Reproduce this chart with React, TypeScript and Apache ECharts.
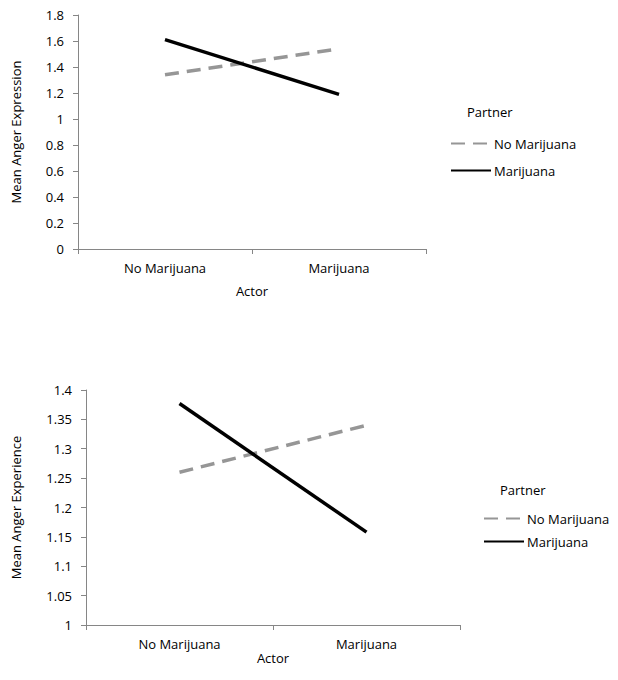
import React, { useEffect, useRef } from "react";
import * as echarts from "echarts";

const categories = ["No Marijuana", "Marijuana"];
const seriesNames = ["No Marijuana", "Marijuana"];
const expressionNoMj = [1.34, 1.54];
const expressionMj = [1.61, 1.19];
const experienceNoMj = [1.26, 1.34];
const experienceMj = [1.377, 1.158];

const FONT = "Open Sans";
const FS = 13;
const AXIS_COLOR = "#868686";
const DASH_COLOR = "#969696";

export default function App() {
  const ref = useRef<HTMLDivElement>(null);
  useEffect(() => {
    if (!ref.current) return;
    const chart = echarts.init(ref.current, null, { renderer: "svg" });
    const xAxisBase = (gridIndex: number, nameGap: number) => ({
      type: "category",
      gridIndex,
      data: categories,
      boundaryGap: true,
      name: "Actor",
      nameLocation: "middle",
      nameGap,
      nameTextStyle: { fontFamily: FONT, fontSize: FS, color: "#000" },
      axisLine: { show: true, lineStyle: { color: AXIS_COLOR, width: 1 } },
      axisTick: { show: true, length: 5, lineStyle: { color: AXIS_COLOR } },
      axisLabel: { fontFamily: FONT, fontSize: FS, color: "#000", margin: 12 },
      splitLine: { show: false },
    });
    const yAxisBase = (gridIndex: number, name: string, min: number, max: number, interval: number, nameGap: number) => ({
      type: "value",
      gridIndex,
      min,
      max,
      interval,
      name,
      nameLocation: "middle",
      nameGap,
      nameTextStyle: { fontFamily: FONT, fontSize: FS, color: "#000" },
      axisLine: { show: true, lineStyle: { color: AXIS_COLOR, width: 1 } },
      axisTick: { show: true, length: 5, lineStyle: { color: AXIS_COLOR } },
      axisLabel: { fontFamily: FONT, fontSize: FS, color: "#000", margin: 14 },
      splitLine: { show: false },
    });
    const dashStyle = { color: DASH_COLOR, width: 3.5, type: [14, 8] as any };
    const solidStyle = { color: "#000", width: 3.5, type: "solid" };
    const legendBase = (left: number, top: number, itemGap: number) => ({
      orient: "vertical",
      left,
      top,
      padding: 0,
      itemWidth: 40,
      itemHeight: 14,
      itemGap,
      data: seriesNames,
      selectedMode: false,
      itemStyle: { opacity: 0 },
      textStyle: { fontFamily: FONT, fontSize: FS, color: "#000", padding: [0, 0, 0, -2] },
    });
    chart.setOption({
      animation: false,
      backgroundColor: "#fff",
      title: [
        { text: "Partner", left: 467, top: 105, padding: 0, textStyle: { fontFamily: FONT, fontSize: FS, fontWeight: "normal", color: "#000" } },
        { text: "Partner", left: 500, top: 483, padding: 0, textStyle: { fontFamily: FONT, fontSize: FS, fontWeight: "normal", color: "#000" } },
      ],
      grid: [
        { left: 78, right: 192, top: 15, bottom: 431 },
        { left: 86, right: 158, top: 390, bottom: 55 },
      ],
      xAxis: [xAxisBase(0, 35), xAxisBase(1, 26)],
      yAxis: [
        yAxisBase(0, "Mean Anger Expression", 0, 1.8, 0.2, 56),
        yAxisBase(1, "Mean Anger Experience", 1, 1.4, 0.05, 64),
      ],
      legend: [legendBase(450, 137, 14), legendBase(483, 512, 10)],
      series: [
        { name: seriesNames[0], type: "line", xAxisIndex: 0, yAxisIndex: 0, data: expressionNoMj, symbol: "none", lineStyle: dashStyle, itemStyle: { color: DASH_COLOR } },
        { name: seriesNames[1], type: "line", xAxisIndex: 0, yAxisIndex: 0, data: expressionMj, symbol: "none", lineStyle: solidStyle, itemStyle: { color: "#000" } },
        { name: seriesNames[0], type: "line", xAxisIndex: 1, yAxisIndex: 1, data: experienceNoMj, symbol: "none", lineStyle: dashStyle, itemStyle: { color: DASH_COLOR } },
        { name: seriesNames[1], type: "line", xAxisIndex: 1, yAxisIndex: 1, data: experienceMj, symbol: "none", lineStyle: solidStyle, itemStyle: { color: "#000" } },
      ],
    });
    return () => chart.dispose();
  }, []);
  return <div ref={ref} style={{ position: "fixed", left: 0, top: 0, width: 618, height: 680, background: "#fff" }} />;
}
